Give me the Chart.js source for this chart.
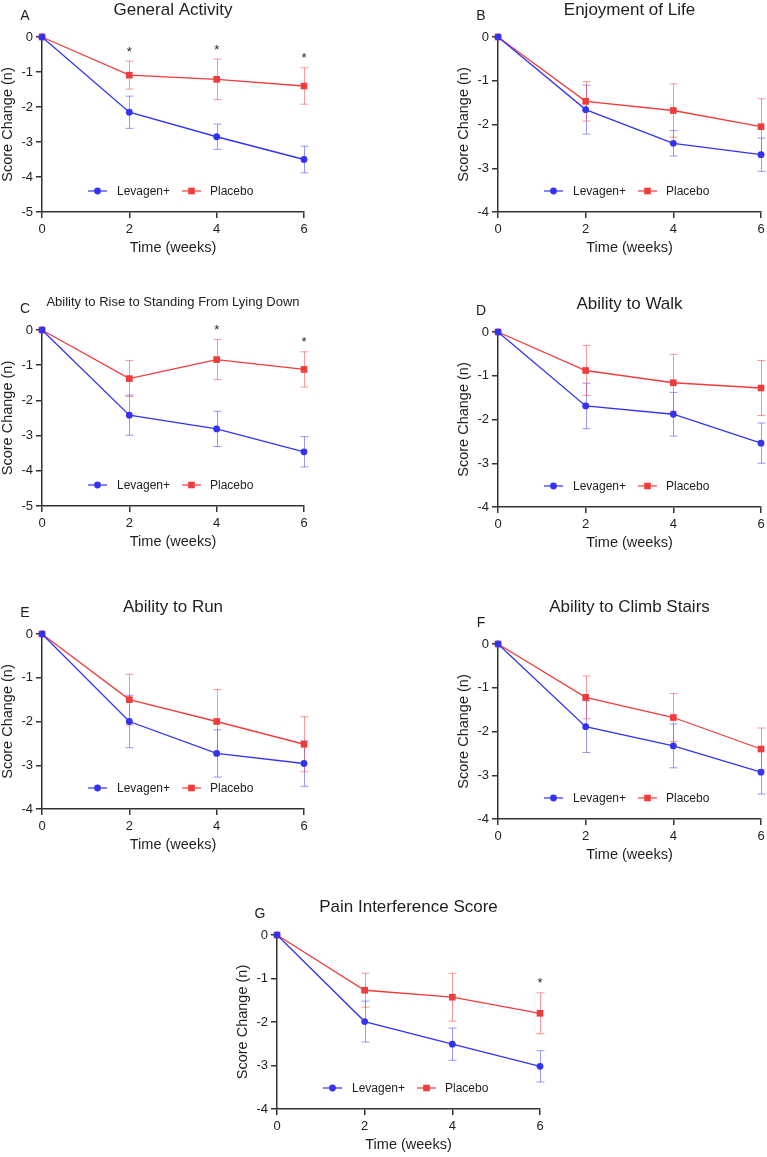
<!DOCTYPE html>
<html>
<head>
<meta charset="utf-8">
<title>Score change over time</title>
<script src="https://cdn.jsdelivr.net/npm/chart.js@4.4.1/dist/chart.umd.min.js"></script>
<style>
  html, body { margin: 0; padding: 0; background: #fff; overflow: hidden; }
  body { position: relative; width: 767px; height: 1157px; }
  canvas { position: absolute; }
</style>
</head>
<body>
<script>
// ---- data ----
const weeks = [0, 2, 4, 6];
const seriesNames = ['Levagen+', 'Placebo'];

const activityLevagen = [0, -2.15, -2.85, -3.50];
const activityLevagenErr = [0, 0.46, 0.36, 0.38];
const activityPlacebo = [0, -1.09, -1.21, -1.40];
const activityPlaceboErr = [0, 0.40, 0.58, 0.52];
const activityStars = [2, 4, 6];

const enjoymentLevagen = [0, -1.66, -2.43, -2.69];
const enjoymentLevagenErr = [0, 0.56, 0.29, 0.38];
const enjoymentPlacebo = [0, -1.47, -1.68, -2.05];
const enjoymentPlaceboErr = [0, 0.45, 0.61, 0.64];
const enjoymentStars = [];

const risingLevagen = [0, -2.42, -2.81, -3.46];
const risingLevagenErr = [0, 0.57, 0.50, 0.43];
const risingPlacebo = [0, -1.38, -0.84, -1.12];
const risingPlaceboErr = [0, 0.51, 0.57, 0.50];
const risingStars = [4, 6];

const walkLevagen = [0, -1.69, -1.88, -2.54];
const walkLevagenErr = [0, 0.52, 0.50, 0.46];
const walkPlacebo = [0, -0.88, -1.16, -1.28];
const walkPlaceboErr = [0, 0.57, 0.65, 0.63];
const walkStars = [];

const runLevagen = [0, -2.00, -2.73, -2.96];
const runLevagenErr = [0, 0.60, 0.54, 0.52];
const runPlacebo = [0, -1.50, -2.00, -2.52];
const runPlaceboErr = [0, 0.58, 0.73, 0.63];
const runStars = [];

const stairsLevagen = [0, -1.89, -2.33, -2.93];
const stairsLevagenErr = [0, 0.59, 0.50, 0.50];
const stairsPlacebo = [0, -1.22, -1.68, -2.40];
const stairsPlaceboErr = [0, 0.49, 0.55, 0.48];
const stairsStars = [];

const painLevagen = [0, -1.99, -2.51, -3.02];
const painLevagenErr = [0, 0.47, 0.37, 0.36];
const painPlacebo = [0, -1.27, -1.43, -1.80];
const painPlaceboErr = [0, 0.39, 0.55, 0.47];
const painStars = [6];

// ---- styling ----
const FONT = '"Liberation Sans", Arial, Helvetica, sans-serif';
const AXIS = '#333333';
const TEXT = '#1e1e1e';
const BLUE = '#3333f5';
const RED = '#f23b3b';
const BLUE_ERR = 'rgba(70, 70, 240, 0.55)';
const RED_ERR = 'rgba(240, 70, 70, 0.55)';

const Y_AXIS_W = 45;
const X_AXIS_H = 45;
const PAD_TOP = 48;
const PAD_RIGHT = 14;

// plot boxes are the page positions of each panel's axes
const panels = [
  { letter: 'A', title: 'General Activity', titleSize: 17, titleGap: 27, yMin: -5,
    lev: activityLevagen, levErr: activityLevagenErr, pla: activityPlacebo, plaErr: activityPlaceboErr,
    stars: activityStars, box: { left: 42, top: 37, right: 304, bottom: 212 } },
  { letter: 'B', title: 'Enjoyment of Life', titleSize: 17, titleGap: 27, yMin: -4,
    lev: enjoymentLevagen, levErr: enjoymentLevagenErr, pla: enjoymentPlacebo, plaErr: enjoymentPlaceboErr,
    stars: enjoymentStars, box: { left: 498, top: 37, right: 761, bottom: 212 } },
  { letter: 'C', title: 'Ability to Rise to Standing From Lying Down', titleSize: 13, titleGap: 28, yMin: -5,
    lev: risingLevagen, levErr: risingLevagenErr, pla: risingPlacebo, plaErr: risingPlaceboErr,
    stars: risingStars, box: { left: 42, top: 330, right: 304, bottom: 506 } },
  { letter: 'D', title: 'Ability to Walk', titleSize: 17, titleGap: 28, yMin: -4,
    lev: walkLevagen, levErr: walkLevagenErr, pla: walkPlacebo, plaErr: walkPlaceboErr,
    stars: walkStars, box: { left: 498, top: 332, right: 761, bottom: 507 } },
  { letter: 'E', title: 'Ability to Run', titleSize: 17, titleGap: 27, yMin: -4,
    lev: runLevagen, levErr: runLevagenErr, pla: runPlacebo, plaErr: runPlaceboErr,
    stars: runStars, box: { left: 42, top: 634, right: 304, bottom: 809 } },
  { letter: 'F', title: 'Ability to Climb Stairs', titleSize: 17, titleGap: 37, yMin: -4,
    lev: stairsLevagen, levErr: stairsLevagenErr, pla: stairsPlacebo, plaErr: stairsPlaceboErr,
    stars: stairsStars, box: { left: 498, top: 644, right: 761, bottom: 819 } },
  { letter: 'G', title: 'Pain Interference Score', titleSize: 17, titleGap: 28, yMin: -4,
    lev: painLevagen, levErr: painLevagenErr, pla: painPlacebo, plaErr: painPlaceboErr,
    stars: painStars, box: { left: 277, top: 935, right: 540, bottom: 1109 } }
];

// error bars are drawn under the lines
const errorBarPlugin = {
  id: 'errorBars',
  beforeDatasetsDraw(chart) {
    const { ctx, scales: { x, y } } = chart;
    chart.data.datasets.forEach(ds => {
      ctx.save();
      ctx.strokeStyle = ds.errorColor;
      ctx.lineWidth = 1;
      ds.data.forEach((pt, i) => {
        const e = ds.errors[i];
        if (!e) return;
        const px = Math.round(x.getPixelForValue(pt.x)) + 0.5;
        const hi = y.getPixelForValue(pt.y + e);
        const lo = y.getPixelForValue(pt.y - e);
        ctx.beginPath();
        ctx.moveTo(px, hi); ctx.lineTo(px, lo);
        ctx.moveTo(px - 4, hi); ctx.lineTo(px + 4, hi);
        ctx.moveTo(px - 4, lo); ctx.lineTo(px + 4, lo);
        ctx.stroke();
      });
      ctx.restore();
    });
  }
};

function drawMarker(ctx, style, color, cx, cy) {
  ctx.fillStyle = color;
  if (style === 'rect') {
    ctx.fillRect(cx - 3.3, cy - 3.3, 6.6, 6.6);
  } else {
    ctx.beginPath();
    ctx.arc(cx, cy, 3.4, 0, Math.PI * 2);
    ctx.fill();
  }
}

// panel title, letter, inline legend and significance stars
const decorPlugin = {
  id: 'decor',
  afterDraw(chart, args, opts) {
    const { ctx, chartArea: area, scales: { x, y } } = chart;
    ctx.save();
    ctx.fillStyle = TEXT;
    ctx.textBaseline = 'middle';

    ctx.textAlign = 'center';
    ctx.font = `${opts.titleSize}px ${FONT}`;
    ctx.fillText(opts.title, (area.left + area.right) / 2, area.top - opts.titleGap);

    ctx.font = `14px ${FONT}`;
    ctx.fillText(opts.letter, area.left - 17, area.top - 21);

    // legend inside the plot, just above the x axis
    const ly = area.bottom - 21;
    ctx.font = `12px ${FONT}`;
    ctx.textAlign = 'left';
    const slots = [{ line: 46, text: 75 }, { line: 140, text: 168 }];
    chart.data.datasets.forEach((ds, i) => {
      const x0 = area.left + slots[i].line;
      ctx.strokeStyle = ds.borderColor;
      ctx.lineWidth = 1.2;
      ctx.beginPath();
      ctx.moveTo(x0, ly); ctx.lineTo(x0 + 19, ly);
      ctx.stroke();
      drawMarker(ctx, ds.pointStyle, ds.backgroundColor, x0 + 9.5, ly);
      ctx.fillStyle = TEXT;
      ctx.fillText(ds.label, area.left + slots[i].text, ly + 0.5);
    });

    // stars sit above the placebo error bar
    const pla = chart.data.datasets[1];
    ctx.textAlign = 'center';
    ctx.font = `13px ${FONT}`;
    opts.stars.forEach(w => {
      const i = weeks.indexOf(w);
      const top = y.getPixelForValue(pla.data[i].y + pla.errors[i]);
      ctx.fillText('*', x.getPixelForValue(w), top - 9);
    });
    ctx.restore();
  }
};

function seriesData(values) {
  return weeks.map((w, i) => ({ x: w, y: values[i] }));
}

function makePanel(p) {
  const canvas = document.createElement('canvas');
  const w = p.box.right - p.box.left + Y_AXIS_W + PAD_RIGHT;
  const h = p.box.bottom - p.box.top + PAD_TOP + X_AXIS_H;
  canvas.width = w;
  canvas.height = h;
  canvas.style.width = w + 'px';
  canvas.style.height = h + 'px';
  canvas.style.left = (p.box.left - Y_AXIS_W) + 'px';
  canvas.style.top = (p.box.top - PAD_TOP) + 'px';
  document.body.appendChild(canvas);

  const tickFont = { family: FONT, size: 13 };
  const titleFont = { family: FONT, size: 14.5 };

  return new Chart(canvas, {
    type: 'line',
    data: {
      datasets: [
        {
          label: seriesNames[0], data: seriesData(p.lev), errors: p.levErr, errorColor: BLUE_ERR,
          borderColor: BLUE, backgroundColor: BLUE, borderWidth: 1.3,
          pointStyle: 'circle', pointRadius: 3.4, pointBorderWidth: 0, tension: 0, clip: false
        },
        {
          label: seriesNames[1], data: seriesData(p.pla), errors: p.plaErr, errorColor: RED_ERR,
          borderColor: RED, backgroundColor: RED, borderWidth: 1.3,
          pointStyle: 'rect', pointRadius: 4.7, pointBorderWidth: 0, tension: 0, clip: false
        }
      ]
    },
    options: {
      responsive: false,
      animation: false,
      layout: { padding: { left: 0, top: PAD_TOP, right: PAD_RIGHT, bottom: 0 } },
      plugins: {
        legend: { display: false },
        tooltip: { enabled: false },
        decor: { title: p.title, titleSize: p.titleSize, titleGap: p.titleGap, letter: p.letter, stars: p.stars }
      },
      scales: {
        x: {
          type: 'linear', min: 0, max: 6,
          afterFit: s => { s.height = X_AXIS_H; },
          ticks: { stepSize: 2, padding: 4, color: TEXT, font: tickFont },
          grid: { drawOnChartArea: false, drawTicks: true, tickLength: 6, color: AXIS, lineWidth: 1.5 },
          border: { color: AXIS, width: 1.5 },
          title: { display: true, text: 'Time (weeks)', color: TEXT, font: titleFont, padding: 0 }
        },
        y: {
          min: p.yMin, max: 0,
          afterFit: s => { s.width = Y_AXIS_W; },
          ticks: { stepSize: 1, padding: 3, color: TEXT, font: tickFont },
          grid: { drawOnChartArea: false, drawTicks: true, tickLength: 6, color: AXIS, lineWidth: 1.5 },
          border: { color: AXIS, width: 1.5 },
          title: { display: true, text: 'Score Change (n)', color: TEXT, font: titleFont, padding: { top: 2, bottom: 0 } }
        }
      }
    },
    plugins: [errorBarPlugin, decorPlugin]
  });
}

panels.forEach(makePanel);
</script>
</body>
</html>
